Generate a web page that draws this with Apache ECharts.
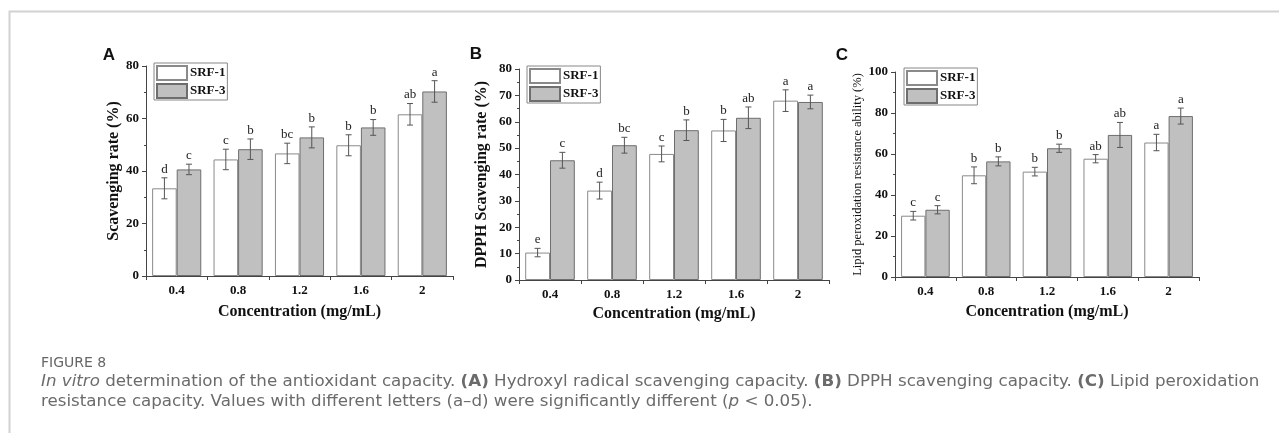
<!DOCTYPE html>
<html>
<head>
<meta charset="utf-8">
<script src="https://cdn.jsdelivr.net/npm/echarts@6/dist/echarts.min.js"></script>
<style>
  html, body { margin: 0; padding: 0; background: #fff; }
  #main { width: 1279px; height: 433px; }
</style>
</head>
<body>
<div id="main"></div>
<script>
// 浓度
var categories = ["0.4", "0.8", "1.2", "1.6", "2"];

// A 羟自由基清除率
var aSrf1 = [33.4, 44.4, 46.7, 49.8, 61.6];
var aSrf1Err = [4.0, 3.9, 3.9, 4.0, 4.1];
var aSrf1Letters = ["d", "c", "bc", "b", "ab"];
var aSrf3 = [40.6, 48.3, 52.8, 56.6, 70.3];
var aSrf3Err = [2.0, 3.9, 4.0, 3.0, 4.1];
var aSrf3Letters = ["c", "b", "b", "b", "a"];

// B DPPH清除率
var bSrf1 = [10.4, 33.9, 47.8, 56.7, 68.0];
var bSrf1Err = [1.6, 3.2, 3.0, 4.2, 4.1];
var bSrf1Letters = ["e", "d", "c", "b", "a"];
var bSrf3 = [45.4, 51.1, 56.8, 61.5, 67.5];
var bSrf3Err = [3.0, 3.0, 3.9, 4.1, 2.6];
var bSrf3Letters = ["c", "bc", "b", "ab", "a"];

// C 抗脂质过氧化
var cSrf1 = [29.9, 49.6, 51.4, 57.7, 65.6];
var cSrf1Err = [2.1, 4.1, 2.1, 2.0, 4.0];
var cSrf1Letters = ["c", "b", "b", "ab", "a"];
var cSrf3 = [32.8, 56.4, 62.8, 69.3, 78.5];
var cSrf3Err = [2.0, 2.2, 2.0, 6.1, 3.9];
var cSrf3Letters = ["c", "b", "b", "ab", "a"];

var serif = "'Liberation Serif', 'Times New Roman', serif";
var axisColor = "#444";

// 误差线 + 显著性字母
function errRender(sign, letters) {
  return function (params, api) {
    var i = api.value(0);
    var v = api.value(1);
    var e = api.value(2);
    var band = api.size([1, 0])[0];
    var x = api.coord([i, v])[0] + sign * band * 0.2;
    var yTop = api.coord([i, v + e])[1];
    var yBot = api.coord([i, v - e])[1];
    var cap = 3;
    var ls = { stroke: "#555", lineWidth: 1 };
    return {
      type: "group",
      children: [
        { type: "line", shape: { x1: x, y1: yTop, x2: x, y2: yBot }, style: ls },
        { type: "line", shape: { x1: x - cap, y1: yTop, x2: x + cap, y2: yTop }, style: ls },
        { type: "line", shape: { x1: x - cap, y1: yBot, x2: x + cap, y2: yBot }, style: ls },
        {
          type: "text",
          x: x,
          y: yTop - 2,
          style: {
            text: letters[i],
            align: "center",
            verticalAlign: "bottom",
            textAlign: "center",
            textVerticalAlign: "bottom",
            fontSize: 13,
            fontFamily: serif,
            fill: "#222"
          }
        }
      ]
    };
  };
}

function errData(vals, errs) {
  return vals.map(function (v, i) { return [i, v, errs[i]]; });
}

function makeX(gi, gap) {
  return {
    type: "category",
    gridIndex: gi,
    data: categories,
    name: "Concentration (mg/mL)",
    nameLocation: "middle",
    nameGap: gap,
    nameTextStyle: { fontFamily: serif, fontWeight: "bold", fontSize: 16, color: "#111" },
    axisLine: { lineStyle: { color: axisColor, width: 1 } },
    axisTick: { show: true, inside: false, length: 4, lineStyle: { color: axisColor } },
    axisLabel: { fontFamily: serif, fontWeight: "bold", fontSize: 13, color: "#111", margin: 8 },
    splitLine: { show: false }
  };
}

function makeY(gi, max, interval, name, gap, nameSize, nameWeight) {
  return {
    type: "value",
    gridIndex: gi,
    min: 0,
    max: max,
    interval: interval,
    name: name,
    nameLocation: "middle",
    nameRotate: 90,
    nameGap: gap,
    nameTextStyle: { fontFamily: serif, fontWeight: nameWeight, fontSize: nameSize, color: "#111" },
    axisLine: { show: true, lineStyle: { color: axisColor, width: 1 } },
    axisTick: { show: true, inside: false, length: 4, lineStyle: { color: axisColor } },
    minorTick: { show: true, splitNumber: 2, length: 2, lineStyle: { color: axisColor } },
    axisLabel: { fontFamily: serif, fontWeight: "bold", fontSize: 13, color: "#111", margin: 7 },
    splitLine: { show: false }
  };
}

var srf1Style = { color: "#ffffff", borderColor: "#8a8a8a", borderWidth: 1 };
var srf3Style = { color: "#c0c0c0", borderColor: "#6e6e6e", borderWidth: 1 };

function barPair(gi, v1, v3, e1, e3, l1, l3) {
  return [
    { name: "SRF-1", type: "bar", xAxisIndex: gi, yAxisIndex: gi, data: v1,
      barGap: "0%", barCategoryGap: "20%", itemStyle: srf1Style },
    { name: "SRF-3", type: "bar", xAxisIndex: gi, yAxisIndex: gi, data: v3,
      barGap: "0%", barCategoryGap: "20%", itemStyle: srf3Style },
    { type: "custom", xAxisIndex: gi, yAxisIndex: gi, data: errData(v1, e1),
      encode: { x: 0, y: 1 }, renderItem: errRender(-1, l1), z: 10, clip: false, silent: true },
    { type: "custom", xAxisIndex: gi, yAxisIndex: gi, data: errData(v3, e3),
      encode: { x: 0, y: 1 }, renderItem: errRender(1, l3), z: 10, clip: false, silent: true }
  ];
}

function makeLegend(left, top) {
  return {
    left: left,
    top: top,
    orient: "vertical",
    data: ["SRF-1", "SRF-3"],
    icon: "rect",
    itemWidth: 30,
    itemHeight: 14,
    itemGap: 2,
    padding: [2, 2, 1, 2],
    borderColor: "#888",
    borderWidth: 1,
    selectedMode: false,
    textStyle: { fontFamily: serif, fontWeight: "bold", fontSize: 13, color: "#111", padding: [0, 0, 0, -2] }
  };
}

var capFont = "'DejaVu Sans', 'Noto Sans', sans-serif";
var capSize = 16.7;
var capColor = "#6b6b6b";

var chart = echarts.init(document.getElementById("main"));
var option = {
  backgroundColor: "#fff",
  animation: false,
  grid: [
    { left: 146, top: 66, width: 307, height: 210 },
    { left: 519, top: 69, width: 310, height: 211 },
    { left: 895, top: 72, width: 304, height: 205 }
  ],
  xAxis: [makeX(0, 28), makeX(1, 26), makeX(2, 27)],
  yAxis: [
    makeY(0, 80, 20, "Scavenging rate (%)", 24, 16, "bold"),
    makeY(1, 80, 10, "DPPH Scavenging rate (%)", 29, 16, "bold"),
    makeY(2, 100, 20, "Lipid peroxidation resistance ability (%)", 28, 12.5, "normal")
  ],
  legend: [makeLegend(154, 63), makeLegend(527, 66), makeLegend(904, 68)],
  series: []
    .concat(barPair(0, aSrf1, aSrf3, aSrf1Err, aSrf3Err, aSrf1Letters, aSrf3Letters))
    .concat(barPair(1, bSrf1, bSrf3, bSrf1Err, bSrf3Err, bSrf1Letters, bSrf3Letters))
    .concat(barPair(2, cSrf1, cSrf3, cSrf1Err, cSrf3Err, cSrf1Letters, cSrf3Letters)),
  graphic: [
    // 外框
    { type: "polyline", shape: { points: [[9.5, 433], [9.5, 11.5], [1279, 11.5]] },
      style: { stroke: "#d2d2d2", lineWidth: 2, fill: null } },
    // 分图编号
    { type: "text", x: 109, y: 55, style: { text: "A", align: "center", verticalAlign: "middle",
      fontFamily: "'Liberation Sans', Arial, sans-serif", fontWeight: "bold", fontSize: 17, fill: "#111" } },
    { type: "text", x: 476, y: 54, style: { text: "B", align: "center", verticalAlign: "middle",
      fontFamily: "'Liberation Sans', Arial, sans-serif", fontWeight: "bold", fontSize: 17, fill: "#111" } },
    { type: "text", x: 842, y: 55, style: { text: "C", align: "center", verticalAlign: "middle",
      fontFamily: "'Liberation Sans', Arial, sans-serif", fontWeight: "bold", fontSize: 17, fill: "#111" } },
    // 图注
    { type: "text", x: 41, y: 363, style: { text: "FIGURE 8", verticalAlign: "middle",
      fontFamily: capFont, fontWeight: "normal", fontSize: 14, fill: "#666" } },
    { type: "text", x: 41, y: 382, style: {
      text: "{i|In vitro} determination of the antioxidant capacity. {b|(A)} Hydroxyl radical scavenging capacity. {b|(B)} DPPH scavenging capacity. {b|(C)} Lipid peroxidation",
      verticalAlign: "middle", fontFamily: capFont, fontSize: capSize, fill: capColor,
      rich: {
        i: { fontStyle: "italic", fontFamily: capFont, fontSize: capSize, fill: capColor },
        b: { fontWeight: "bold", fontFamily: capFont, fontSize: capSize, fill: capColor }
      } } },
    { type: "text", x: 41, y: 402, style: {
      text: "resistance capacity. Values with different letters (a\u2013d) were significantly different ({i|p} < 0.05).",
      verticalAlign: "middle", fontFamily: capFont, fontSize: capSize, fill: capColor,
      rich: {
        i: { fontStyle: "italic", fontFamily: capFont, fontSize: capSize, fill: capColor }
      } } }
  ]
};

window.onresize = chart.resize;
chart.setOption(option);
</script>
</body>
</html>
